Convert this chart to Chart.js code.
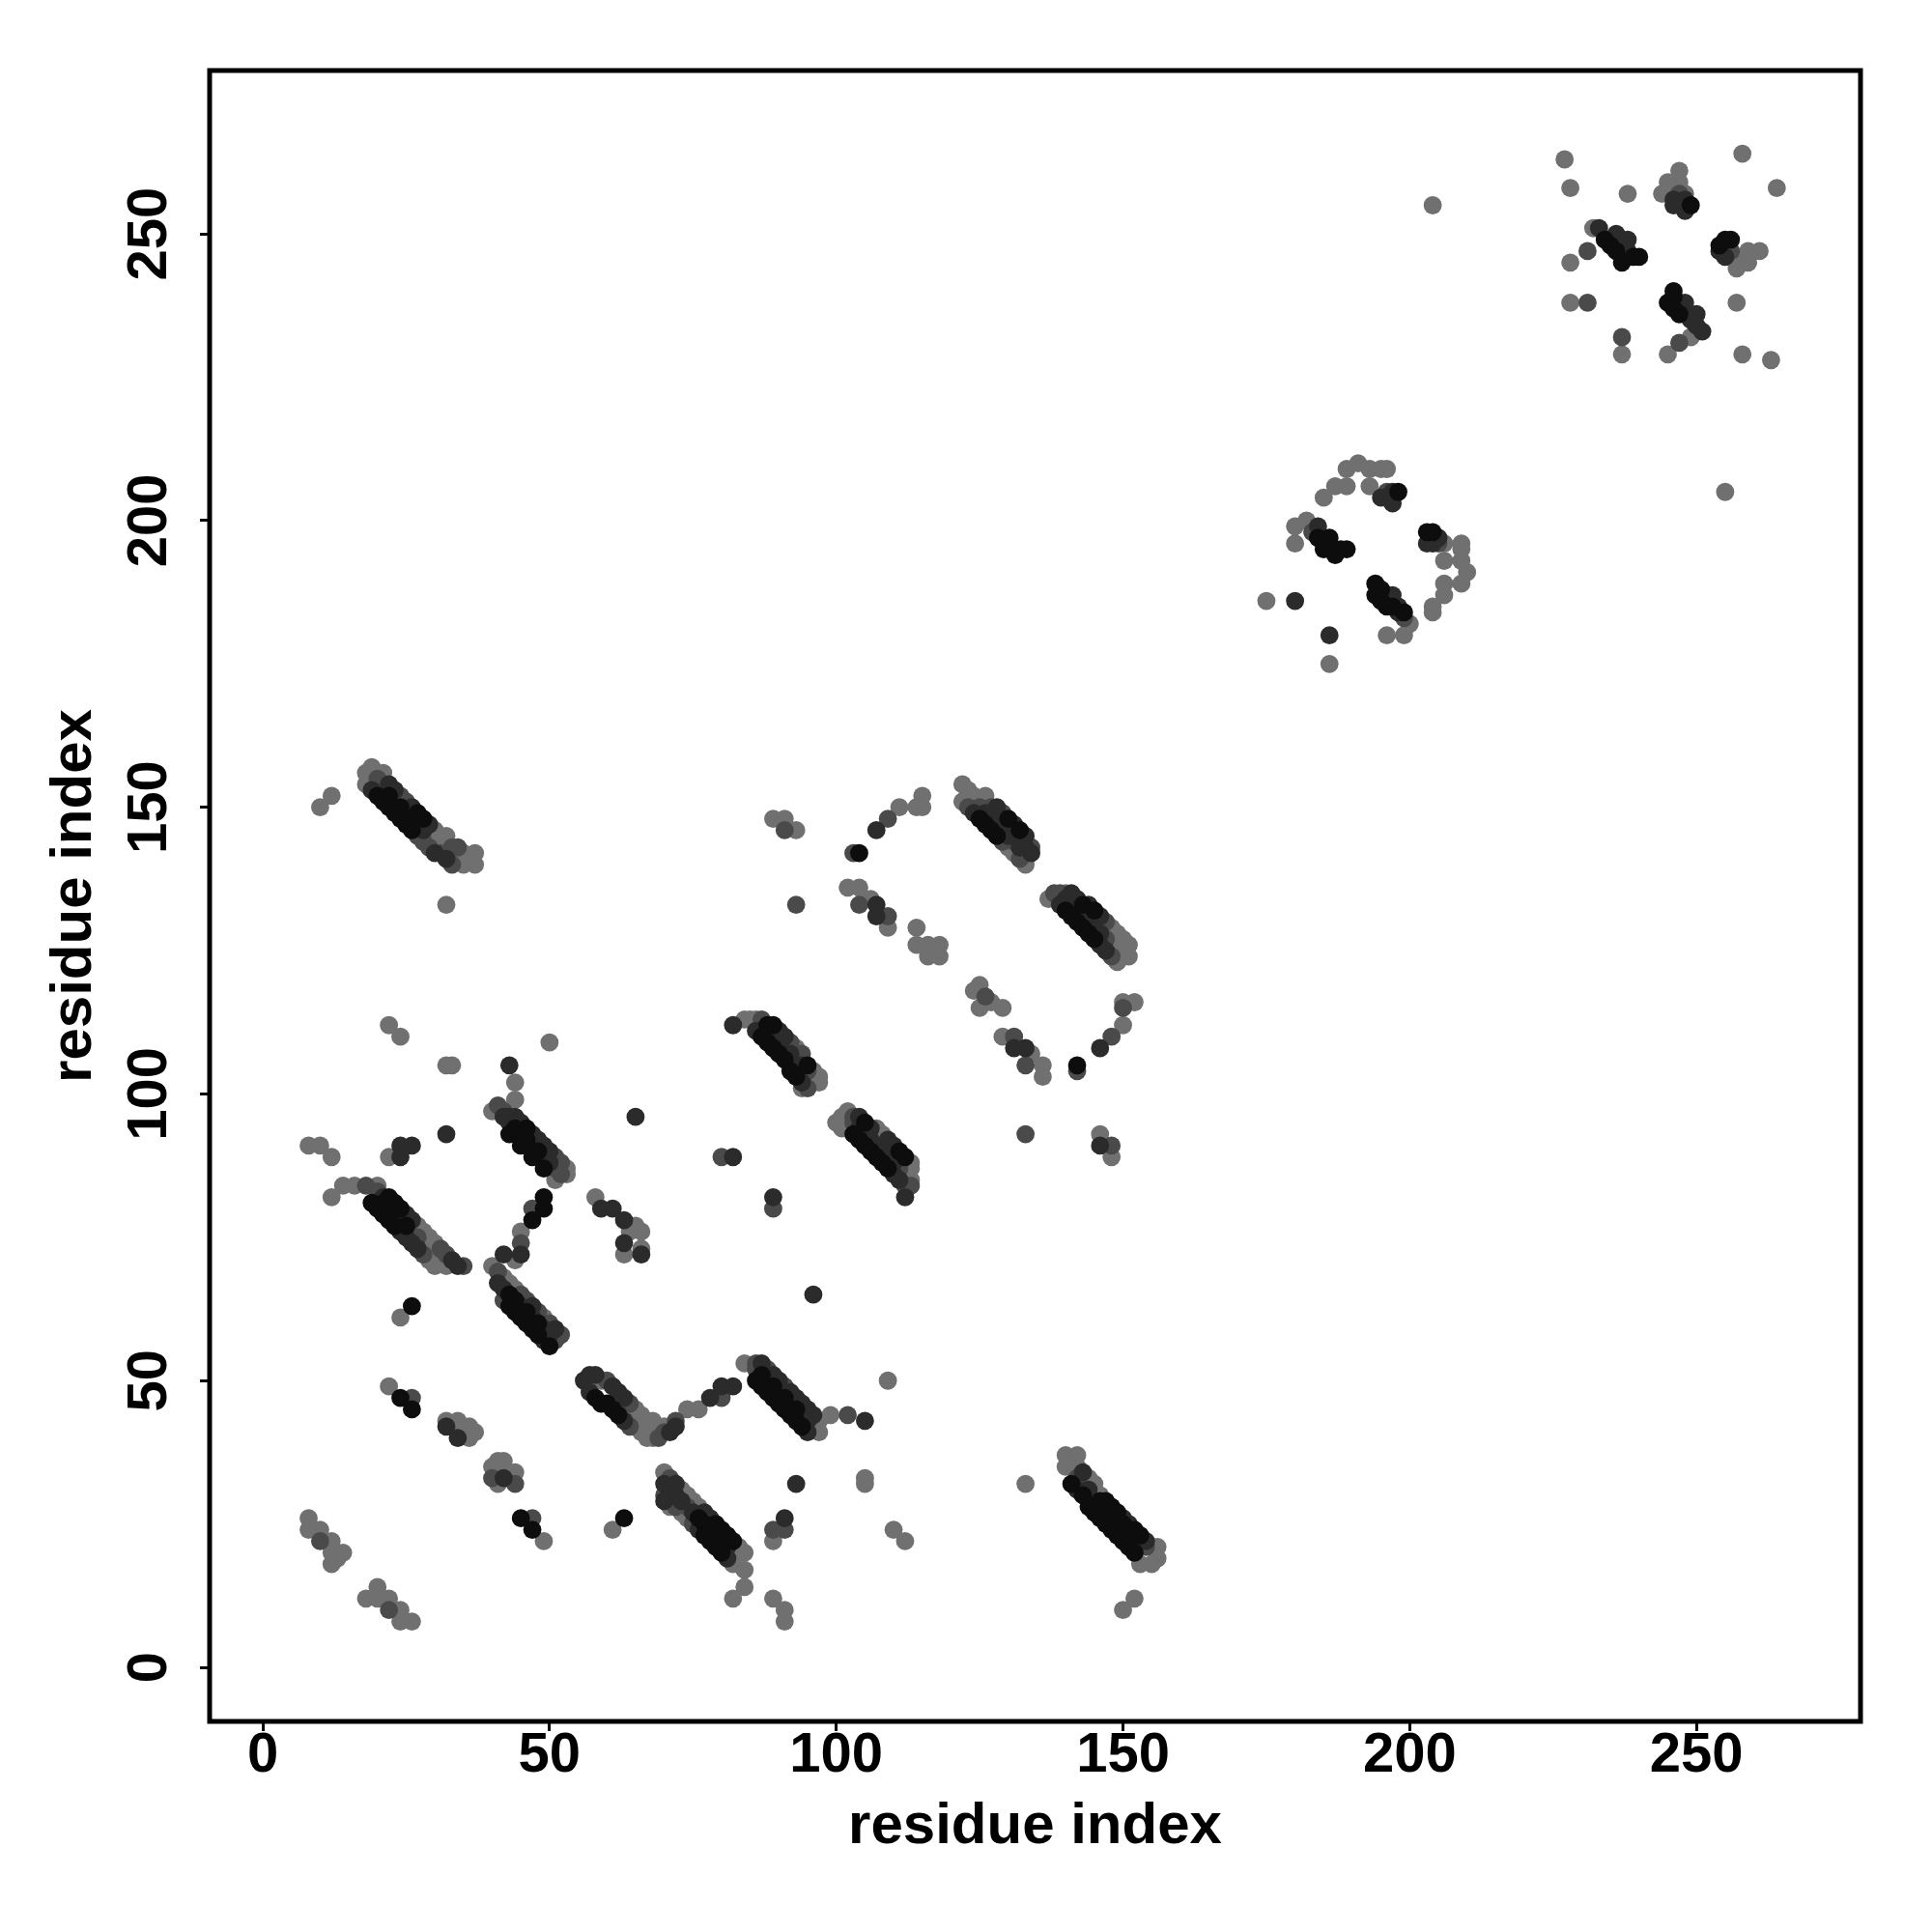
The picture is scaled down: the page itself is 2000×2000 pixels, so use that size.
<!DOCTYPE html>
<html lang="en">
<head>
  <meta charset="UTF-8">
  <title>Contact map</title>
  <script src="https://cdn.jsdelivr.net/npm/chart.js"></script>
  <style>
    html, body { margin: 0; padding: 0; background: #fff; }
    #wrap { width: 2000px; height: 2000px; }
  </style>
</head>
<body>
  <div id="wrap"><canvas id="contactMap" width="2000" height="2000"></canvas></div>
  <script>
    // tick labels on both axes
    const xTickValues = [0, 50, 100, 150, 200, 250];
    const yTickValues = [0, 50, 100, 150, 200, 250];

    // contacts [i, j], grouped by how dark the dot is
    const blackPts = [
      [26,63],[24,47],[26,45],[45,26],[47,24],[63,26],
      [22,82],[23,81],[24,80],[19,81],[20,80],[21,79],[22,78],[23,77],[21,81],[25,77],
      [46,94],[44,94],[46,92],[48,90],[43,93],[45,91],[47,89],[49,87],
      [49,82],[49,80],[47,78],
      [43,65],[44,64],[46,62],[48,60],[43,63],[44,62],[45,61],[46,60],[47,59],[48,58],[50,56],
      [58,47],[59,46],[60,46],[61,45],[62,44],
      [87,51],[89,49],[91,47],[93,45],[86,50],[87,49],[88,48],[89,47],[90,46],[91,45],[92,44],[93,43],[94,42],
      [79,25],[80,24],[81,23],[82,22],[76,26],[77,25],[78,24],[79,23],[80,22],[77,23],[78,22],[79,21],[80,20],
      [147,29],[148,28],[149,27],[152,24],[153,23],[141,32],[143,30],[144,28],[145,27],[146,26],[147,25],[148,24],
      [149,23],[150,22],[151,21],[152,20],[146,29],[148,27],[150,25],
      [27,149],[28,148],[20,152],[21,151],[22,150],[23,149],[24,148],[25,147],[26,146],[22,152],[24,150],[26,148],
      [88,112],[89,112],[95,105],[87,110],[88,109],[89,108],[90,107],[91,106],[92,104],[93,103],
      [105,95],[111,90],[112,89],[103,93],[104,92],[105,91],[106,90],[107,89],[108,88],[109,87],
      [142,105],[104,142],
      [130,148],[132,146],[125,148],[126,147],[127,146],[128,145],
      [143,133],[145,132],[140,132],[141,131],[142,130],[143,129],[144,128],[145,127],
      [184,197],[186,197],[185,195],[187,194],[189,195],[198,205],[203,198],[204,198],[194,189],[194,187],
      [196,185],[199,184],[186,196],[188,195],[185,196],[195,188],[195,186],[197,185],
      [235,248],[237,245],[240,246],[254,248],[256,249],[246,240],[245,238],[247,236],[234,249],[236,247],
      [239,246],[255,249],[246,239],[246,237],[249,255]
    ];
    const darkPts = [
      [32,42],[34,40],[42,33],
      [21,82],[25,79],[26,78],[33,71],[34,70],[24,76],[25,75],[26,74],[27,73],[23,79],
      [24,91],[26,91],[24,89],[32,93],[43,105],[65,96],
      [43,96],[44,96],[45,95],[47,93],[48,92],[49,91],[50,90],[42,96],[50,88],[43,95],[49,89],
      [45,72],
      [47,63],[51,59],[41,67],[42,66],[45,63],[47,61],[49,59],[50,58],[49,57],[42,72],
      [59,80],[61,80],[63,78],[63,74],[66,72],
      [56,50],[57,51],[58,51],[61,49],[62,48],[63,47],[57,48],[63,43],[71,41],[72,42],
      [78,47],[80,49],[82,49],
      [87,53],[89,51],[90,50],[92,48],[93,47],[94,46],[95,45],[96,44],[88,50],[90,48],[92,46],[94,44],[95,43],[95,41],
      [105,43],
      [72,32],[77,27],[78,26],[70,32],[72,30],[73,29],[75,27],[81,21],[70,29],[76,24],[81,19],
      [91,26],[93,32],
      [143,34],[150,26],[151,25],[154,22],[142,31],[144,31],[152,23],
      [22,154],[23,153],[26,150],[29,147],[19,153],[30,142],[32,141],[28,146],
      [82,112],[90,111],[91,110],[86,111],[94,102],[88,111],[90,109],[92,107],[94,105],
      [104,96],[106,94],[109,92],[110,91],[112,82],[110,86],[111,85],[104,94],[106,92],[108,90],[110,88],
      [82,89],[89,82],[96,65],
      [131,108],[133,108],[146,108],[146,91],
      [107,146],[107,133],[107,131],
      [128,150],[131,147],[133,145],[133,143],[134,142],[124,149],[126,149],[128,147],[130,145],[132,143],
      [141,135],[142,134],[144,133],[146,131],[139,133],[146,126],[147,125],[140,134],[142,132],[144,130],[146,128],
      [180,186],[186,180],[184,199],[195,204],[197,203],[205,197],[203,196],[197,187],[198,185],[197,205],
      [204,196],[196,187],[198,184],
      [246,255],[248,254],[233,251],[236,250],[238,249],[255,246],[248,238],[250,236],[251,233],[238,247],
      [254,247],[248,237],[249,235],[250,234],[246,256],[248,256]
    ];
    const midPts = [
      [26,47],[10,22],[22,10],[40,33],[44,32],[47,26],
      [18,84],[20,83],[31,73],[32,72],[35,70],[28,72],[27,75],
      [41,98],[42,97],[51,89],[52,88],[52,86],[51,87],[45,93],[47,91],
      [47,80],[45,74],
      [41,69],[45,65],[46,64],[48,62],[50,60],[52,58],[51,57],[42,64],
      [60,50],[64,46],[64,42],[69,40],[70,41],[72,43],
      [80,47],
      [86,53],[88,52],[91,49],[86,52],[102,44],
      [71,33],[71,31],[74,28],[70,30],[72,28],[75,25],[89,24],[91,24],
      [142,33],[154,21],
      [20,155],[24,152],[25,151],[33,143],[34,143],[27,145],[28,144],[29,143],[31,142],[33,140],[20,154],
      [87,113],[92,109],[94,107],[95,101],[87,112],[93,106],[95,104],[89,110],[91,108],
      [103,96],[113,84],[112,84],[103,95],[111,87],[105,93],[107,91],[109,89],
      [80,89],[89,80],
      [126,117],[131,110],[133,105],[142,104],[148,110],[150,115],[133,93],[148,91],
      [91,146],[93,133],[103,142],[109,148],[104,133],[109,131],
      [127,150],[129,149],[134,143],[123,150],[129,144],[132,141],[125,150],[131,144],[133,142],[127,148],[129,146],
      [138,135],[147,130],[148,124],[139,135],[145,129],[147,127],[141,133],[143,131],
      [183,198],[196,205],[196,204],[205,196],[199,183],
      [231,247],[231,238],[237,232],[247,231],[247,257],[256,247]
    ];
    const lightPts = [
      [8,26],[8,24],[10,24],[12,22],[12,20],[14,20],[12,18],[13,19],
      [20,14],[18,12],[20,12],[22,12],[24,10],[24,8],[26,8],
      [24,61],[22,49],
      [32,43],[33,42],[34,43],[35,42],[36,42],[37,41],[35,41],[36,40],
      [40,35],[41,36],[42,36],[43,34],[44,34],[41,32],[43,33],
      [49,22],[61,24],
      [12,82],[14,84],[16,84],[20,84],[27,77],[28,76],[29,75],[30,74],[29,71],[30,70],[29,73],[31,71],[32,70],
      [8,91],[10,91],[12,89],[22,89],[22,112],[24,110],[32,105],[33,105],[44,102],[44,99],[50,109],
      [40,97],[53,87],[53,86],[51,85],
      [45,76],
      [40,70],[42,68],[43,67],[44,66],[49,61],[44,71],
      [58,82],[64,76],[66,76],[63,72],[66,73],[65,77],
      [59,50],[65,45],[66,44],[67,43],[68,43],[69,42],[70,42],[65,42],[66,41],[67,40],[68,40],
      [74,45],[76,45],
      [84,53],[97,43],[97,41],[99,44],[109,50],
      [70,34],[73,31],[74,30],[75,29],[76,28],[83,21],[84,20],[82,20],[73,27],[74,26],[82,18],[71,28],
      [84,17],[84,14],[82,12],[89,22],[89,12],[91,10],[91,8],[110,24],[112,22],[105,33],[105,32],[133,32],
      [140,37],[142,37],[140,35],[142,35],[144,33],[145,32],[146,30],[155,21],[156,21],[156,19],[155,18],[153,18],
      [152,12],[150,10],
      [10,150],[12,152],[32,133],[18,156],[19,157],[21,156],[21,154],[30,146],[31,145],[32,145],[35,142],
      [36,141],[37,142],[37,140],[35,140],[18,154],
      [84,113],[85,113],[86,113],[93,108],[96,104],[97,103],[97,102],[94,101],[96,103],
      [100,95],[101,96],[102,97],[107,94],[108,93],[113,88],[113,87],[113,85],[101,94],[112,86],
      [125,119],[124,118],[127,116],[125,115],[129,115],[129,110],[134,107],[136,105],[136,103],
      [150,112],[150,116],[152,116],[146,93],[148,89],
      [89,148],[91,148],[93,146],[111,150],[114,150],[115,152],[115,150],[102,136],[104,136],[106,134],
      [109,129],[114,129],[114,126],[116,126],[118,126],[118,124],[116,124],
      [122,154],[123,153],[124,152],[126,152],[122,151],[130,143],[131,142],[133,140],[123,152],
      [140,135],[148,129],[149,128],[150,127],[151,126],[151,124],[137,134],[149,123],[148,126],[149,125],[150,124],
      [175,186],[186,175],[180,199],[182,200],[180,196],[185,204],[187,206],[189,209],[189,206],[191,210],
      [193,209],[193,206],[195,209],[196,209],[206,196],[209,196],[209,195],[206,193],[209,193],[210,191],
      [209,189],[206,189],[206,187],[204,185],[204,184],[200,182],[199,180],[196,180],
      [227,263],[228,258],[258,264],[264,258],[238,257],[247,261],[247,259],[245,259],[244,257],[248,257],
      [232,251],[228,245],[257,246],[259,247],[261,247],[259,245],[257,244],[228,238],[237,229],[245,229],
      [257,238],[258,229],[263,228],[255,205],[204,255],[249,232]
    ];

    const toXY = pts => pts.map(p => ({x: p[0], y: p[1]}));
    const tickFont = {family: 'Liberation Sans', size: 58, weight: 'bold'};
    const titleFont = {family: 'Liberation Sans', size: 60, weight: 'bold'};

    // plot frame + rotated y tick labels (R style)
    const framePlugin = {
      id: 'frame',
      afterDraw(chart) {
        const {ctx, chartArea: a, scales} = chart;
        ctx.save();
        ctx.strokeStyle = '#000';
        ctx.lineWidth = 5;
        ctx.strokeRect(a.left, a.top, a.right - a.left, a.bottom - a.top);
        ctx.fillStyle = '#000';
        ctx.font = 'bold 58px "Liberation Sans"';
        ctx.textAlign = 'center';
        ctx.textBaseline = 'alphabetic';
        yTickValues.forEach(v => {
          const py = scales.y.getPixelForValue(v);
          ctx.save();
          ctx.translate(172, py);
          ctx.rotate(-Math.PI / 2);
          ctx.fillText(String(v), 0, 0);
          ctx.restore();
        });
        ctx.restore();
      }
    };

    function dotSet(name, pts, colour, order) {
      return {
        label: name,
        data: toXY(pts),
        backgroundColor: colour,
        borderWidth: 0,
        pointRadius: 9.4,
        pointHoverRadius: 9.4,
        order: order
      };
    }

    new Chart(document.getElementById('contactMap').getContext('2d'), {
      type: 'scatter',
      data: {
        datasets: [
          dotSet('black', blackPts, '#0d0d0d', 0),
          dotSet('dark', darkPts, '#2b2b2b', 1),
          dotSet('mid', midPts, '#4a4a4a', 2),
          dotSet('light', lightPts, '#707070', 3)
        ]
      },
      options: {
        responsive: false,
        animation: false,
        devicePixelRatio: 1,
        layout: {padding: {top: 73, right: 74, bottom: 0, left: 0}},
        plugins: {legend: {display: false}, tooltip: {enabled: false}},
        scales: {
          x: {
            type: 'linear',
            min: -9.27,
            max: 278.6,
            afterBuildTicks: s => { s.ticks = xTickValues.map(v => ({value: v})); },
            afterFit: s => { s.height = 218; },
            grid: {display: true, drawOnChartArea: false, drawTicks: true, tickLength: 10, color: '#000', lineWidth: 3},
            border: {display: false},
            ticks: {font: tickFont, color: '#000', padding: -9, maxRotation: 0, autoSkip: false},
            title: {display: true, text: 'residue index', font: titleFont, color: '#000', padding: {top: 0, bottom: 73}}
          },
          y: {
            type: 'linear',
            min: -9.43,
            max: 278.5,
            afterBuildTicks: s => { s.ticks = yTickValues.map(v => ({value: v})); },
            afterFit: s => { s.width = 217; },
            grid: {display: true, drawOnChartArea: false, drawTicks: true, tickLength: 10, color: '#000', lineWidth: 3},
            border: {display: false},
            ticks: {font: tickFont, color: 'rgba(0,0,0,0)', autoSkip: false},
            title: {display: true, text: 'residue index', font: titleFont, color: '#000', padding: {top: 41, bottom: 0}}
          }
        }
      },
      plugins: [framePlugin]
    });
  </script>
</body>
</html>
